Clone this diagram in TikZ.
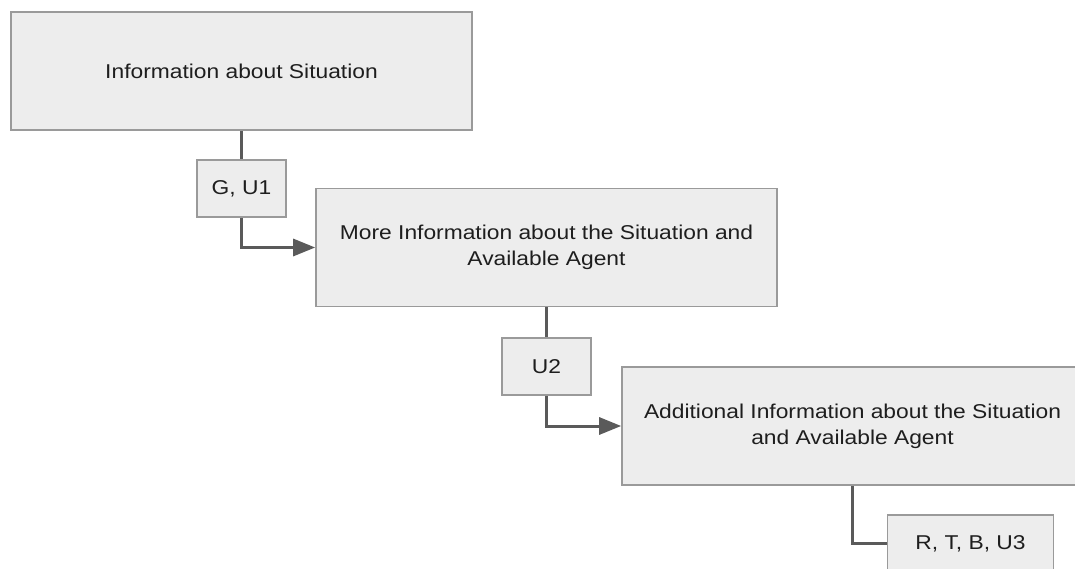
\documentclass[tikz,border=0pt]{standalone}
\usepackage{fontspec}
\setmainfont{Liberation Sans}[FakeStretch=1.14]
\usetikzlibrary{arrows.meta}
\definecolor{boxfill}{HTML}{EDEDED}
\definecolor{boxline}{HTML}{9A9A9A}
\definecolor{conn}{HTML}{5A5A5A}
\definecolor{txt}{HTML}{1E1E1E}
\begin{document}
\begin{tikzpicture}[x=1pt,y=-1pt,
  infobox/.style={draw=boxline, fill=boxfill, line width=1.6pt, minimum width=461pt, minimum height=118pt, inner sep=0pt, align=center, text=txt, font=\fontsize{20}{26}\selectfont},
  lbl/.style={draw=boxline, fill=boxfill, line width=1.6pt, minimum width=89pt, minimum height=57pt, inner sep=0pt, text=txt, font=\fontsize{20}{26}\selectfont},
  link/.style={draw=conn, line width=3pt},
  arr/.style={link, -{Triangle[length=22pt,width=17pt]}}]
\useasboundingbox (0,0) rectangle (1075,569);
\clip (0,0) rectangle (1075,569);
\node[infobox] (b1) at (241.5,71) {Information about Situation};
\node[infobox] (b2) at (546.5,247.5) {More Information about the Situation and\\Available Agent};
\node[infobox] (b3) at (852.5,426) {Additional Information about the Situation\\and Available Agent};
\node[lbl] (l1) at (241.5,188.5) {G, U1};
\node[lbl] (l2) at (546.5,366.5) {U2};
\node[lbl, minimum width=166pt] (l3) at (970.5,543.5) {R, T, B, U3};
\draw[link] (b1.south) -- (l1.north);
\draw[arr] (l1.south) |- (b2.west);
\draw[link] (b2.south) -- (l2.north);
\draw[arr] (l2.south) |- (b3.west);
\draw[link] (b3.south) |- (l3.west);
\end{tikzpicture}
\end{document}
